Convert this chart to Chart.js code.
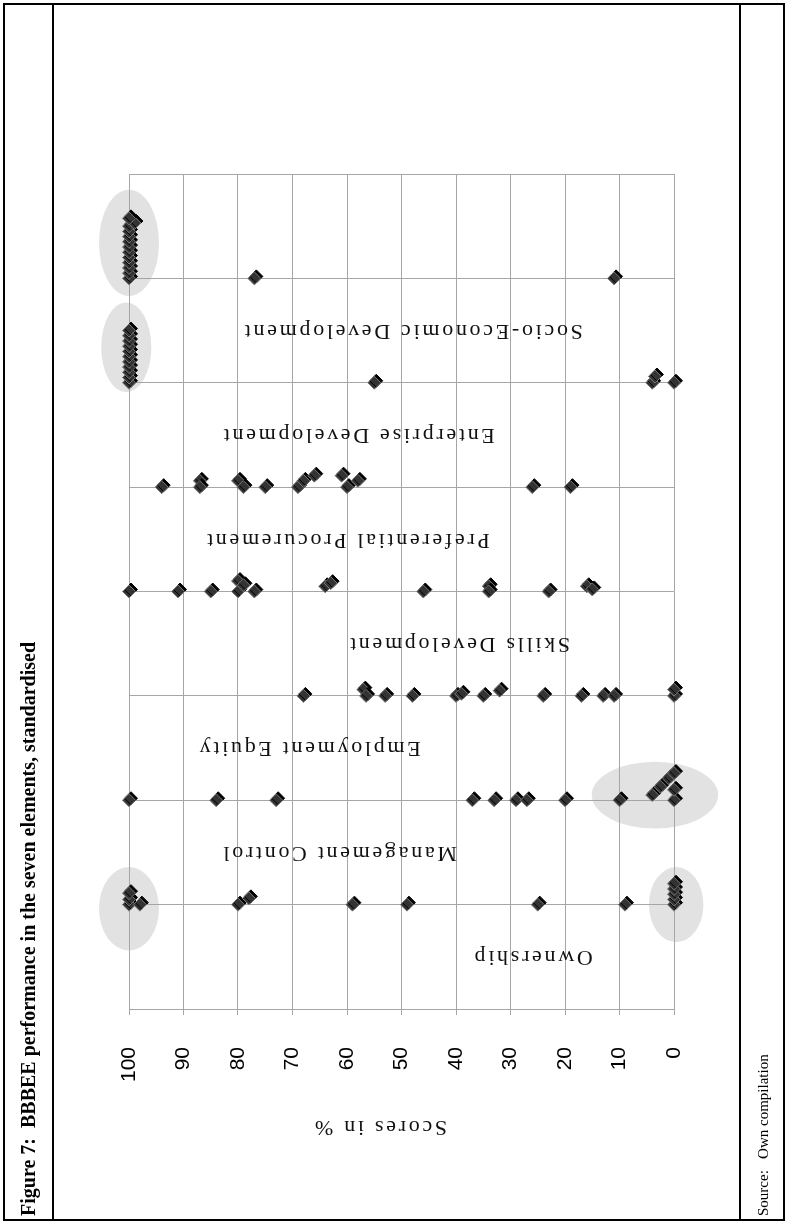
<!DOCTYPE html>
<html lang="en">
<head>
    <meta charset="UTF-8">
    <title>BBBEE performance in the seven elements</title>
    <script src="https://cdn.jsdelivr.net/npm/chart.js"></script>
    <style>
        body { margin: 0; background: #fff; }
        #pagina { position: relative; width: 787px; height: 1223px; overflow: hidden; }
        #grafica { position: absolute; left: 0; top: 0; }
        .marco { position: absolute; left: 3px; top: 3px; width: 782px; height: 1218px;
                 border: 2px solid #000; box-sizing: border-box; pointer-events: none; }
        .linea { position: absolute; top: 3px; width: 2px; height: 1218px; background: #000; }
        .vertical { position: absolute; white-space: nowrap; transform-origin: 0 0;
                    transform: rotate(-90deg); font-family: 'Liberation Serif', serif; color: #000; }
        #titulo { left: 17px; top: 1216px; font-size: 20px; font-weight: bold; line-height: 22px; }
        #fuente { left: 753px; top: 1216px; font-size: 15px; line-height: 20px; }
    </style>
</head>
<body>
<div id="pagina">
    <canvas id="grafica" width="787" height="1223"></canvas>
    <div class="marco"></div>
    <div class="linea" style="left:52px"></div>
    <div class="linea" style="left:739px"></div>
    <div class="vertical" id="titulo">Figure 7:&nbsp; BBBEE performance in the seven elements, standardised</div>
    <div class="vertical" id="fuente">Source:&nbsp;&nbsp; Own compilation</div>
</div>

<script>
    // categorias de abajo hacia arriba
    const elementos = ['Ownership', 'Management Control', 'Employment Equity', 'Skills Development',
                       'Preferential Procurement', 'Enterprise Development', 'Socio-Economic Development'];

    // puntajes (%) por elemento, y el pequeño desplazamiento con que se apilan los repetidos
    const ownership = [100, 100, 100, 98, 80, 78, 59, 49, 25, 9, 0, 0, 0, 0, 0];
    const ownershipApil = [0, 0.05, 0.11, 0, 0, 0.06, 0, 0, 0, 0, 0, 0.05, 0.1, 0.15, 0.2];

    const management = [100, 84, 73, 37, 33, 29, 27, 20, 10, 4, 2.5, 1, 0, 0, 0];
    const managementApil = [0, 0, 0, 0, 0, 0, 0, 0, 0, 0.05, 0.13, 0.21, 0, 0.1, 0.26];

    const employment = [68, 57, 56.5, 53, 48, 40, 39, 35, 32, 24, 17, 13, 11, 0, 0];
    const employmentApil = [0, 0.06, 0, 0, 0, 0, 0.02, 0, 0.05, 0, 0, 0, 0, 0, 0.06];

    const skills = [100, 91, 85, 80, 80, 79, 77, 64, 63, 46, 34, 34, 23, 16, 15];
    const skillsApil = [0, 0, 0, 0.1, 0, 0.06, 0, 0.05, 0.08, 0, 0.05, 0, 0, 0.05, 0.02];

    const procurement = [94, 87, 87, 80, 79, 75, 69, 68, 66, 61, 60, 58, 26, 19];
    const procurementApil = [0, 0.06, 0, 0.06, 0, 0, 0, 0.06, 0.11, 0.11, 0, 0.06, 0, 0];

    const enterprise = [100, 100, 100, 100, 100, 100, 100, 100, 100, 100, 100, 55, 4, 3.5, 0];
    const enterpriseApil = [0, 0.05, 0.1, 0.15, 0.2, 0.25, 0.3, 0.35, 0.4, 0.45, 0.5, 0, 0, 0.06, 0];

    const socio = [100, 100, 100, 100, 100, 100, 100, 100, 100, 100, 100, 99, 100, 77, 11];
    const socioApil = [0, 0.05, 0.1, 0.15, 0.2, 0.25, 0.3, 0.35, 0.4, 0.45, 0.5, 0.53, 0.575, 0, 0];

    const puntajes = [ownership, management, employment, skills, procurement, enterprise, socio];
    const apilados = [ownershipApil, managementApil, employmentApil, skillsApil, procurementApil, enterpriseApil, socioApil];

    const marcasEje = [0, 10, 20, 30, 40, 50, 60, 70, 80, 90, 100];

    // donde va cada rotulo (en % del eje) y los ovalos grises del original
    const rotuloEn = [26, 61.5, 67, 39.5, 60, 58, 48];
    const ovalos = [
        { x: 100, fila: 7, dy: 0.34, rx: 5.5, ry: 0.51 },
        { x: 100.5, fila: 6, dy: 0.34, rx: 4.6, ry: 0.43 },
        { x: 3.5, fila: 2, dy: 0.05, rx: 11.6, ry: 0.32 },
        { x: 100, fila: 1, dy: -0.04, rx: 5.5, ry: 0.4 },
        { x: -0.4, fila: 1, dy: 0, rx: 5, ry: 0.36 }
    ];

    const gris = '#a6a6a6';

    const fondoOvalos = {
        id: 'fondoOvalos',
        beforeDraw(chart) {
            const { ctx, scales: { x, y } } = chart;
            ctx.save();
            ctx.fillStyle = '#e2e2e2';
            ovalos.forEach(o => {
                const cx = x.getPixelForValue(o.x);
                const cy = y.getPixelForValue(o.fila + o.dy);
                const rx = Math.abs(x.getPixelForValue(0) - x.getPixelForValue(o.rx));
                const ry = Math.abs(y.getPixelForValue(0) - y.getPixelForValue(o.ry));
                ctx.beginPath();
                ctx.ellipse(cx, cy, rx, ry, 0, 0, Math.PI * 2);
                ctx.fill();
            });
            ctx.restore();
        }
    };

    const sombra = {
        id: 'sombra',
        beforeDatasetDraw(chart) {
            const ctx = chart.ctx;
            ctx.save();
            ctx.shadowColor = '#000';
            ctx.shadowOffsetX = 2;
            ctx.shadowOffsetY = -2;
            ctx.shadowBlur = 0;
        },
        afterDatasetDraw(chart) {
            chart.ctx.restore();
        }
    };

    // rotulos de categoria y titulo del eje, de cabeza como en el original
    const textosInvertidos = {
        id: 'textosInvertidos',
        afterDatasetsDraw(chart) {
            const { ctx, scales: { x, y }, chartArea } = chart;
            const escribir = (txt, px, py, tam, esp) => {
                ctx.save();
                ctx.translate(px, py);
                ctx.rotate(Math.PI);
                ctx.font = tam + "px 'Liberation Serif'";
                ctx.letterSpacing = esp + 'px';
                ctx.fillStyle = '#111';
                ctx.textAlign = 'center';
                ctx.textBaseline = 'middle';
                ctx.fillText(txt, 0, 0);
                ctx.restore();
            };
            elementos.forEach((el, i) => {
                escribir(el, x.getPixelForValue(rotuloEn[i]), y.getPixelForValue(i + 0.5), 22, 2.7);
            });
            escribir('Scores in %', x.getPixelForValue(54), chartArea.bottom + 118, 22, 2.7);
        }
    };

    const ctx = document.getElementById('grafica').getContext('2d');
    new Chart(ctx, {
        type: 'scatter',
        data: {
            datasets: elementos.map((el, i) => ({
                label: el,
                data: puntajes[i].map((v, j) => ({ x: v, y: i + 1 + apilados[i][j] })),
                pointStyle: 'rectRot',
                pointRadius: 6.5,
                backgroundColor: '#333',
                borderColor: '#7a7a7a',
                borderWidth: 1,
                clip: false
            }))
        },
        options: {
            responsive: false,
            animation: false,
            layout: { padding: { left: 129, right: 113, top: 174, bottom: 0 } },
            plugins: {
                legend: { display: false },
                tooltip: { enabled: false }
            },
            scales: {
                x: {
                    type: 'linear',
                    reverse: true,
                    min: 0,
                    max: 100,
                    afterBuildTicks: s => { s.ticks = marcasEje.map(v => ({ value: v })); },
                    afterFit: s => { s.height = 214; },
                    ticks: {
                        minRotation: 90,
                        maxRotation: 90,
                        padding: 32,
                        color: '#000',
                        font: { family: 'Liberation Sans', size: 21 }
                    },
                    grid: { color: gris, tickLength: 6 },
                    border: { color: gris }
                },
                y: {
                    min: 0,
                    max: 8,
                    afterFit: s => { s.width = 0; },
                    ticks: { display: false, stepSize: 1 },
                    grid: { color: gris, drawTicks: false },
                    border: { color: gris }
                }
            }
        },
        plugins: [fondoOvalos, sombra, textosInvertidos]
    });
</script>
</body>
</html>
